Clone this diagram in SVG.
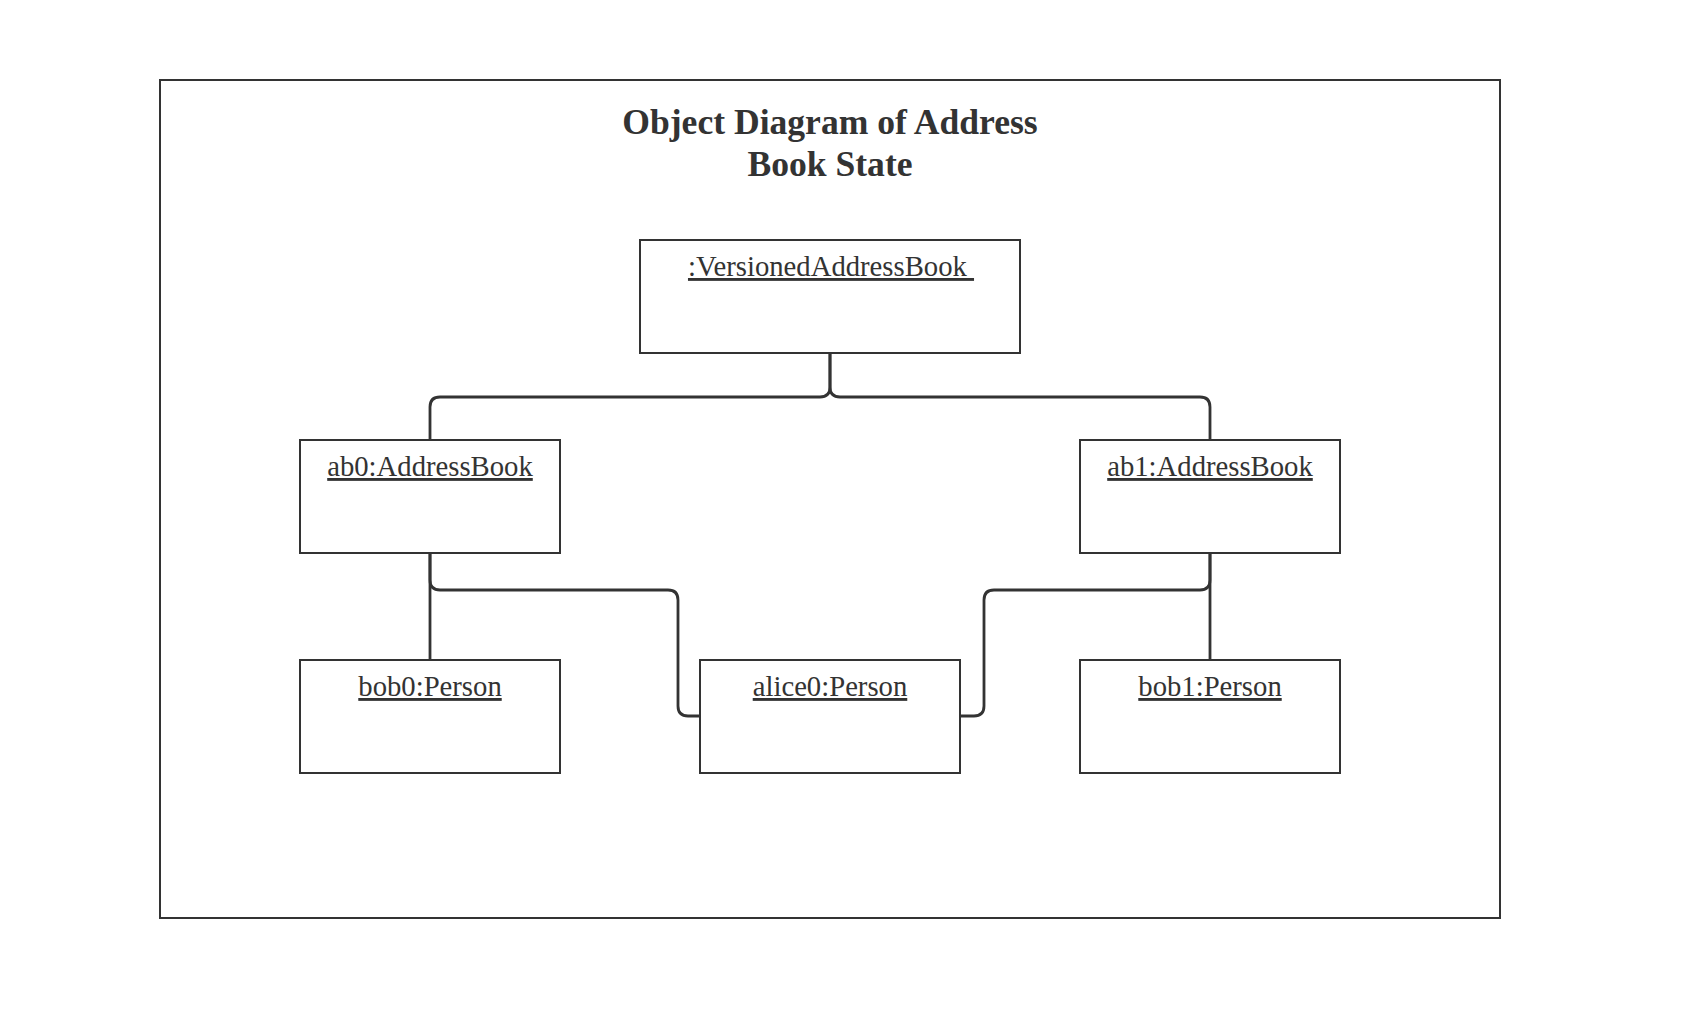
<svg xmlns="http://www.w3.org/2000/svg" width="1687" height="1023" viewBox="0 0 1687 1023">
<style>
.box{fill:#fff;stroke:#333;stroke-width:2}
.lbl{font-family:"Liberation Serif","Times New Roman",serif;font-size:28.7px;fill:#333;text-anchor:middle;text-decoration:underline;white-space:pre}
.title{font-family:"Liberation Serif","Times New Roman",serif;font-size:35.6px;font-weight:bold;fill:#333;text-anchor:middle}
.conn{fill:none;stroke:#333;stroke-width:2.8}
</style>
<rect x="0" y="0" width="1687" height="1023" fill="#fff"/>
<rect id="frame" x="160" y="80" width="1340" height="838" fill="none" stroke="#333" stroke-width="2"/>
<g id="title">
<text class="title" x="830" y="134">Object Diagram of Address</text>
<text class="title" x="830" y="176">Book State</text>
</g>
<g id="connectors">
<path class="conn" d="M830,353 V387 Q830,397 820,397 H440 Q430,397 430,407 V440"/>
<path class="conn" d="M830,353 V387 Q830,397 840,397 H1200 Q1210,397 1210,407 V440"/>
<path class="conn" d="M430,553 V660"/>
<path class="conn" d="M430,553 V580 Q430,590 440,590 H668 Q678,590 678,600 V706 Q678,716 688,716 H700"/>
<path class="conn" d="M1210,553 V580 Q1210,590 1200,590 H994 Q984,590 984,600 V706 Q984,716 974,716 H960"/>
<path class="conn" d="M1210,553 V660"/>
</g>
<g id="versionedAddressBook">
<rect class="box" x="640" y="240" width="380" height="113"/>
<text class="lbl" x="831" y="276">:VersionedAddressBook </text>
</g>
<g id="ab0">
<rect class="box" x="300" y="440" width="260" height="113"/>
<text class="lbl" x="430" y="476">ab0:AddressBook</text>
</g>
<g id="ab1">
<rect class="box" x="1080" y="440" width="260" height="113"/>
<text class="lbl" x="1210" y="476">ab1:AddressBook</text>
</g>
<g id="bob0">
<rect class="box" x="300" y="660" width="260" height="113"/>
<text class="lbl" x="430" y="696">bob0:Person</text>
</g>
<g id="alice0">
<rect class="box" x="700" y="660" width="260" height="113"/>
<text class="lbl" x="830" y="696">alice0:Person</text>
</g>
<g id="bob1">
<rect class="box" x="1080" y="660" width="260" height="113"/>
<text class="lbl" x="1210" y="696">bob1:Person</text>
</g>
</svg>
